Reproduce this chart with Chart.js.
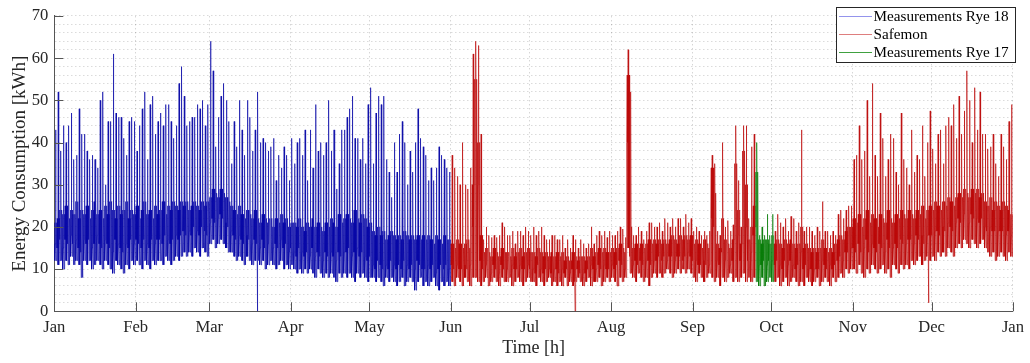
<!DOCTYPE html>
<html><head><meta charset="utf-8">
<script src="https://cdn.jsdelivr.net/npm/chart.js@4"></script>
<style>html,body{margin:0;padding:0;background:#fff}#wrap{position:relative;width:1030px;height:363px}</style>
</head><body><div id="wrap"><canvas id="c"></canvas></div>
<script>
// ---- tick labels / categories ----
const monthLabels = ['Jan','Feb','Mar','Apr','May','Jun','Jul','Aug','Sep','Oct','Nov','Dec','Jan'];
const monthStartDays = [0,31,59,90,120,151,181,212,243,273,304,334,365];
const yTickValues = [0,10,20,30,40,50,60,70];
const seriesNames = ['Measurements Rye 18','Safemon','Measurements Rye 17'];

// ---- Measurements Rye 18 (daily readings from Jan 1, day 0) ----
const blueStartDay = 0;
const bluePeak = [43,52,38,44,40,44,47,36,37,48, 42,42,38,36,37,36,34,50,52,30, 45,45,61,47,46,46,41,37,45,46,
  45,38,44,48,52,36,49,51,42,45, 47,44,49,49,45,41,44,54,58,51, 44,45,46,46,49,48,50,44,49,64,
  57,39,46,51,54,50,45,35,45,39, 50,43,37,50,46,38,43,52,40,41, 40,38,39,41,31,37,34,39,37,31,
  41,35,40,41,37,43,31,43,34,49, 38,40,37,40,50,38,43,29,35,43, 43,46,48,51,41,41,36,41,35,49, 53,
  35,47,51,49,51,36,33,27,40,33, 42,45,40,30,38,33,40,48,41,39, 37,31,34,31,34,39,37,36,34,33];
const blueHigh = [21,22,24,23,25,22,24,23,26,22, 24,23,25,22,24,26,23,24,22,25, 23,26,24,22,25,23,24,26,22,24,
  23,25,22,24,26,23,24,22,25,23, 24,26,23,25,24,26,25,24,26,25, 26,24,25,26,25,24,26,25,26,
  27,29,28,27,29,28,27,26, 25,24,23,25,23,22,24,23,22,24,
  22,21,23,22,21,22,20,22,21,23,21,22,20,21, 21,20,22,20,19,21,20,22,20,21, 20,19,21,20,22,21,20,23,21,22,
  23,22,21,24,22,21,23,22,20,21, 19,18,20,18,19,17,18,19,18,17, 18,17,19,18,17,18,17,18,17,18, 17,18,17,16,18,17,16,18,17,17];
const blueMid = [16,15,17,15,17,16,18,16,17,15, 14,17,16,17,15,16,18,16,15,17, 16,15,14,17,16,15,14,16,15,17,
  16,17,16,15,17,16,15,17,16,17, 17,16,18,17,16,17,18,17,18,19, 18,19,18,20,19,18,20,19,18,
  21,22,21,22,23,22,21,20, 19,18,17,18,17,16,18,17,16,17,
  16,15,17,15,16,17,15,16,15,17,15,16,14,15, 14,13,15,14,13,14,13,15,13,14, 13,12,14,13,14,13,12,14,13,14,
  14,15,13,14,15,13,14,13,12,13, 11,10,12,11,10,11,10,12,11,10, 11,10,12,11,10,11,10,12,11,10, 10,11,10,11,9,10,11,10,11,10];
const blueLow = [12,11,12,10,12,11,13,11,12,11, 8,12,11,12,10,11,12,11,10,12, 11,10,9,12,11,10,9,11,10,12,
  11,12,11,10,12,11,10,12,11,12, 12,11,13,12,11,12,13,12,13,14, 13,14,13,15,14,13,15,14,13,
  16,17,15,16,17,16,15,14, 14,13,12,13,12,11,13,12,11,12,
  12,11,12,10,11,12,11,10,11,12,10,11,10,11, 10,9,10,9,10,9,10,9,8,10, 9,8,9,8,9,8,7,9,8,9,
  8,9,8,7,9,8,9,8,7,8, 8,7,8,7,6,8,7,8,7,6, 7,8,6,7,8,7,5,7,8,6, 7,6,7,8,6,5,7,6,7,6];
const blueDips = [[77,7,0]]; // [day, hour, value]

// ---- Safemon (daily readings from Jun 1, day 151) ----
const redStartDay = 151;
const redPeak = [37,34,32,30,40,30,29,34,61,64,63,42,
  17,20,18,17.5,18,17.5,18,21,20,18, 18,19,16,19,19,18,20,19,18,
  20,18,19,20,18,17,17,18,18,17, 17,18,15,17,15,18,17,15,17,16, 15,16,20,16,18,19,18,19,17.5,19,
  18,18,19,20,19.5,17.5,62,52,18,18, 20,19,17,19,21,21,20,20,21,19, 22,21,20,22,20,22,22,20,23,21, 22,
  19,20,19,18,19,18,19,37,35,19, 18,40,20,21.5,19,20.5,44,31,20,44, 44,22,39,42,
  null,null,null,null,null,null,null,
  19,23,21,20,22,19,22.5,22,19,21, 43,19,20,20,19,18,20,19,26,19, 19,18,19,18,23,24,22,24,25,25,
  36,37,44,36,38,50,32,54,37,32, 47,41,32,36,42,41,33,30,47,36, 34,30,43,33,37,36,44,32,40,47.5,
  38.5,35,42,43,35,44,46,44,49,41, 51,42,47.5,57,50,40,53,43,52,42, 42,38.5,39,42,35,32,42,39,36,45, 49];
const redHigh = [16,15,17,16,15,16,17,15,30,55,40,18,
  14,15,14,13,15,14,13,15,14,14, 13,15,13,14,15,13,14,15,14,
  14,13,15,14,13,14,13,14,13,14, 13,14,12,13,12,14,13,12,13,13, 12,13,15,13,14,15,14,15,14,14,
  15,14,15,16,15,14,56,20, 15,16,15,16,15,16,17,16,17,16, 17,16,17,16,17,18,17,16,18,17,18,17,18,
  16,17,16,15,17,16,15,34,28,16, 15,22,17,16,15,17,35,24,16,38, 30,17,20,25,
  null,null,null,null,null,null,null,
  16,17,16,15,17,16,17,16,15,16, 20,15,16,15,14,15,14,15,17,15, 14,15,14,16,17,18,17,19,20,20,
  22,21,23,20,22,24,21,23,22,20, 23,22,21,24,22,21,23,22,24,23, 22,24,23,22,24,23,25,22,24,25,
  24,26,25,24,26,25,27,26,25,27, 28,27,29,28,27,29,28,29,27,28, 26,25,27,24,26,25,24,26,25,24,23];
const redMid = [11,10,11,10,10,11,10,11,20,45,30,12,
  10,11,10,9,11,10,9,11,10,10, 9,11,10,10,11,10,10,11,10,
  10,9,11,10,9,10,10,9,10,10, 9,10,9,10,9,10,9,10,9,9, 9,10,11,10,10,11,10,11,10,10,
  11,10,11,12,11,10,40,13, 11,12,11,12,11,12,12,11,12,12, 13,12,13,12,13,13,12,13,13,12,13,14,13,
  12,12,11,11,12,11,11,22,20,12, 11,14,12,12,11,12,25,18,12,26, 20,12,14,18,
  null,null,null,null,null,null,null,
  11,12,11,10,12,11,12,11,10,11, 14,10,11,10,10,10,10,10,12,11, 10,11,10,11,12,13,12,14,14,15,
  15,14,16,14,15,17,14,16,15,14, 16,15,14,17,15,15,16,15,17,16, 16,17,17,16,18,17,18,16,18,18,
  18,19,19,18,20,19,21,20,19,21, 22,21,23,22,21,23,22,22,21,22, 20,19,20,19,19,19,19,19,18,19,18];
const redLow = [7,6,8,7,6,8,7,6,8,8,7,6,
  7,8,6,7,8,7,6,8,7,7, 8,6,7,8,7,6,7,8,7,
  7,6,8,7,6,7,8,6,7,6, 7,6,8,6,7,6,7,8,7,6, 7,8,6,7,7,8,6,7,8,7,
  8,7,6,8,7,8,15,9, 8,7,9,8,7,8,6,8,9,8, 9,8,9,10,9,8,9,10,9,10,9,10,9,
  8,7,9,8,7,8,9,8,7,8, 6,8,7,8,9,7,8,7,8,9, 7,8,7,8,
  null,null,null,null,null,null,null,
  7,8,6,7,8,6,7,8,7,6, 7,6,8,7,6,7,8,6,7,8, 7,6,8,7,8,9,8,10,9,10,
  10,9,11,9,8,10,9,11,10,9, 10,11,9,10,8,11,10,9,11,10, 11,10,12,11,12,13,11,12,13,12,
  13,12,14,13,14,13,15,14,13,15, 16,15,17,16,15,17,16,15,16,17, 15,14,13,14,12,13,14,13,12,14,13];
const redDips = [[198,7,0],[332,22,2]];

// ---- Measurements Rye 17 (daily readings from Sep 24, day 267) ----
const greenStartDay = 267;
const greenPeak = [40,18,20,18,23,18,23];
const greenHigh = [33,17,16,17,17,16,18];
const greenMid  = [20,11,11,12,11,12,12];
const greenLow  = [7,6,8,6,7,8,7];
const greenDips = [];

const HOURS = [0,3,6,9,12,15,18,21];
function buildSeries(start, lo, mid, hi, pk, dips){
  const pts = [];
  for (let i = 0; i < pk.length; i++){
    const d = start + i;
    if (pk[i] === null){
      if (pts.length && pts[pts.length-1].y !== null) pts.push({x: d*24, y: null});
      continue;
    }
    const vals = [mid[i], hi[i], lo[i], mid[i], pk[i], mid[i], lo[i], hi[i]];
    const dayPts = HOURS.map((h,k) => ({x: d*24 + h, y: vals[k]}));
    dips.filter(p => p[0] === d).forEach(p => dayPts.push({x: d*24 + p[1], y: p[2]}));
    dayPts.sort((a,b) => a.x - b.x);
    pts.push(...dayPts);
  }
  return pts;
}

const seriesColors = ['rgb(0,0,165)','rgb(185,0,0)','rgb(0,120,0)'];
const legendColors = ['rgba(60,60,220,0.55)','rgba(200,40,40,0.6)','rgba(0,130,0,0.75)'];
const serif = "'Liberation Serif','Times New Roman',serif";
const monthHours = monthStartDays.map(d => d*24);

const overlay = {
  id: 'overlay',
  afterDatasetsDraw(chart){
    const ctx = chart.ctx, a = chart.chartArea, xs = chart.scales.x, ys = chart.scales.y;
    ctx.save();
    ctx.strokeStyle = '#555';
    ctx.lineWidth = 1;
    ctx.beginPath();
    yTickValues.forEach(v => { const y = Math.round(ys.getPixelForValue(v)) + 0.5; ctx.moveTo(a.left, y); ctx.lineTo(a.left + 9, y); });
    monthHours.forEach(h => { const x = Math.round(xs.getPixelForValue(h)) + 0.5; ctx.moveTo(x, a.bottom); ctx.lineTo(x, a.bottom - 9); });
    ctx.stroke();
    ctx.restore();
  },
  afterDraw(chart){
    const ctx = chart.ctx;
    ctx.save();
    const bx = 836, by = 7, bw = 179, bh = 55;
    ctx.fillStyle = '#fff';
    ctx.fillRect(bx, by, bw, bh);
    ctx.strokeStyle = '#262626';
    ctx.lineWidth = 1;
    ctx.strokeRect(bx + 0.5, by + 0.5, bw, bh);
    ctx.font = '15.2px ' + serif;
    ctx.textBaseline = 'middle';
    ctx.textAlign = 'left';
    const rows = [16.5, 34.5, 52.5];
    seriesNames.forEach((name, i) => {
      ctx.strokeStyle = legendColors[i];
      ctx.lineWidth = 1.2;
      ctx.beginPath(); ctx.moveTo(839, rows[i]); ctx.lineTo(872, rows[i]); ctx.stroke();
      ctx.fillStyle = '#000';
      ctx.fillText(name, 873.5, rows[i] + 1);
    });
    ctx.restore();
  }
};

new Chart(document.getElementById('c'), {
  type: 'line',
  data: {
    datasets: [
      {label: seriesNames[0], data: buildSeries(blueStartDay, blueLow, blueMid, blueHigh, bluePeak, blueDips), borderColor: seriesColors[0], order: 3},
      {label: seriesNames[1], data: buildSeries(redStartDay, redLow, redMid, redHigh, redPeak, redDips), borderColor: seriesColors[1], order: 2},
      {label: seriesNames[2], data: buildSeries(greenStartDay, greenLow, greenMid, greenHigh, greenPeak, greenDips), borderColor: seriesColors[2], order: 1}
    ]
  },
  options: {
    responsive: true, maintainAspectRatio: false, animation: false, parsing: false, normalized: true,
    datasets: {line: {borderWidth: 0.65, pointRadius: 0, tension: 0, spanGaps: false, fill: false}},
    layout: {padding: {left: 0, top: 12, right: 14.3, bottom: 0}},
    plugins: {legend: {display: false}, tooltip: {enabled: false}},
    scales: {
      x: {
        type: 'linear', min: 0, max: 8760,
        afterBuildTicks: s => { s.ticks = monthHours.map(v => ({value: v})); },
        afterFit: s => { s.height = 51.7; },
        ticks: {autoSkip: false, maxRotation: 0, padding: 6, color: '#262626', font: {family: serif, size: 16.6},
          callback: (v, i) => monthLabels[i]},
        grid: {drawTicks: false, color: 'rgba(0,0,0,0.16)', lineWidth: 1},
        border: {display: true, color: '#555', width: 1, dash: [1.5, 2.5]},
        title: {display: true, text: 'Time [h]', color: '#262626', font: {family: serif, size: 18}, padding: {top: 0, bottom: 4}}
      },
      y: {
        type: 'linear', min: 0, max: 70,
        afterBuildTicks: s => { const t = []; for (let v = 0; v <= 70; v += 2) t.push({value: v}); s.ticks = t; },
        afterFit: s => { s.width = 54.3; },
        ticks: {autoSkip: false, padding: 6, color: '#262626', font: {family: serif, size: 16.6},
          callback: v => (v % 10 === 0 ? String(v) : '')},
        grid: {drawTicks: false, color: 'rgba(0,0,0,0.14)', lineWidth: 1},
        border: {display: true, color: '#555', width: 1, dash: [1.5, 2.5]},
        title: {display: true, text: 'Energy Consumption [kWh]', color: '#262626', font: {family: serif, size: 19}, padding: {top: 9, bottom: 0}}
      }
    }
  },
  plugins: [overlay]
});
</script></body></html>
